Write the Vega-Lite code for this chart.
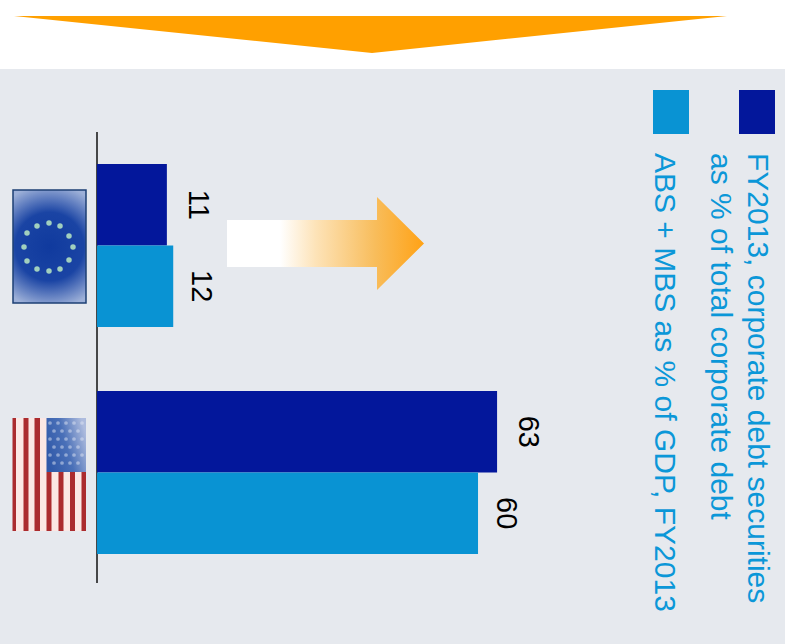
{
  "$schema": "https://vega.github.io/schema/vega-lite/v6.json",
  "width": 790,
  "height": 644,
  "padding": 0,
  "autosize": {"type": "fit", "contains": "padding"},
  "background": "#ffffff",
  "config": {"view": {"stroke": null}},
  "datasets": {
    "shares": [
      {"region": "EU", "series": "Corporate debt securities", "share": 11},
      {"region": "EU", "series": "ABS + MBS", "share": 12},
      {"region": "US", "series": "Corporate debt securities", "share": 63},
      {"region": "US", "series": "ABS + MBS", "share": 60}
    ],
    "panel": [{"u": 0, "u2": 785, "v": 69, "v2": 644}],
    "banner": [
      {"u": 14, "v": 16, "v2": 16},
      {"u": 372, "v": 53, "v2": 16},
      {"u": 727, "v": 16, "v2": 16}
    ],
    "arrow": [
      {"u": 227, "v": 220, "v2": 267},
      {"u": 377, "v": 220, "v2": 267},
      {"u": 377, "v": 197, "v2": 290},
      {"u": 424, "v": 243.5, "v2": 243.5}
    ],
    "baseline": [{"u": 97, "v": 132, "v2": 583}],
    "swatches": [
      {"series": "ABS + MBS", "u": 653, "u2": 689, "v": 90, "v2": 134},
      {"series": "Corporate debt securities", "u": 739, "u2": 775, "v": 90, "v2": 134}
    ],
    "legendLines": [
      {"u": 757, "v": 153, "line": "FY2013, corporate debt securities"},
      {"u": 720, "v": 153, "line": "as % of total corporate debt"},
      {"u": 664, "v": 153, "line": "ABS + MBS as % of GDP, FY2013"}
    ],
    "euFlag": [{"u": 13, "u2": 86, "v": 190, "v2": 303}],
    "euStars": [
      {"u": 49, "v": 223}, {"u": 60, "v": 226}, {"u": 69, "v": 236}, {"u": 73, "v": 247},
      {"u": 69, "v": 260}, {"u": 60, "v": 269}, {"u": 49, "v": 271}, {"u": 37, "v": 269},
      {"u": 27, "v": 261}, {"u": 24, "v": 247}, {"u": 27, "v": 233}, {"u": 37, "v": 226}
    ],
    "usField": [{"u": 13, "u2": 86, "v": 418, "v2": 531}],
    "usStripes": [
      {"u": 12.5, "u2": 16, "v": 418, "v2": 531},
      {"u": 23.5, "u2": 28.5, "v": 418, "v2": 531},
      {"u": 34.5, "u2": 40, "v": 418, "v2": 531},
      {"u": 46.5, "u2": 51.5, "v": 472, "v2": 531},
      {"u": 58.5, "u2": 63.5, "v": 472, "v2": 531},
      {"u": 70, "u2": 75, "v": 472, "v2": 531},
      {"u": 81.5, "u2": 86, "v": 472, "v2": 531}
    ],
    "usCanton": [{"u": 46.5, "u2": 86, "v": 418, "v2": 472}],
    "usStars": [
      {"u": 50, "v": 423}, {"u": 58, "v": 423}, {"u": 66, "v": 423}, {"u": 74, "v": 423}, {"u": 82, "v": 423},
      {"u": 54, "v": 431}, {"u": 62, "v": 431}, {"u": 70, "v": 431}, {"u": 78, "v": 431},
      {"u": 50, "v": 439}, {"u": 58, "v": 439}, {"u": 66, "v": 439}, {"u": 74, "v": 439}, {"u": 82, "v": 439},
      {"u": 54, "v": 447}, {"u": 62, "v": 447}, {"u": 70, "v": 447}, {"u": 78, "v": 447},
      {"u": 50, "v": 455}, {"u": 58, "v": 455}, {"u": 66, "v": 455}, {"u": 74, "v": 455}, {"u": 82, "v": 455},
      {"u": 54, "v": 463}, {"u": 62, "v": 463}, {"u": 70, "v": 463}, {"u": 78, "v": 463}
    ]
  },
  "layer": [
    {
      "encoding": {
        "x": {"field": "u", "type": "quantitative", "axis": null, "scale": {"domain": [0, 790], "range": [0, 790], "nice": false, "zero": false}},
        "y": {"field": "v", "type": "quantitative", "axis": null, "scale": {"domain": [0, 644], "range": [0, 644], "nice": false, "zero": false}}
      },
      "layer": [
        {
          "data": {"name": "panel"},
          "mark": {"type": "rect", "color": "#e6e9ee"},
          "encoding": {"x2": {"field": "u2"}, "y2": {"field": "v2"}}
        },
        {
          "data": {"name": "banner"},
          "mark": {"type": "area", "color": "#ffa000", "opacity": 1},
          "encoding": {"y2": {"field": "v2"}}
        },
        {
          "data": {"name": "arrow"},
          "mark": {
            "type": "area",
            "opacity": 1,
            "color": {
              "gradient": "linear", "x1": 0, "y1": 0, "x2": 1, "y2": 0,
              "stops": [
                {"offset": 0, "color": "#ffffff"},
                {"offset": 0.27, "color": "#ffffff"},
                {"offset": 0.45, "color": "#fde3b8"},
                {"offset": 0.75, "color": "#f8bd5c"},
                {"offset": 1, "color": "#ffa215"}
              ]
            }
          },
          "encoding": {"y2": {"field": "v2"}}
        },
        {
          "data": {"name": "baseline"},
          "mark": {"type": "rule", "color": "#111111", "strokeWidth": 1.5},
          "encoding": {"y2": {"field": "v2"}}
        },
        {
          "data": {"name": "swatches"},
          "mark": {"type": "rect"},
          "encoding": {
            "x2": {"field": "u2"},
            "y2": {"field": "v2"},
            "color": {"field": "series", "type": "nominal", "legend": null, "scale": {"domain": ["Corporate debt securities", "ABS + MBS"], "range": ["#03179b", "#0993d3"]}}
          }
        },
        {
          "data": {"name": "legendLines"},
          "mark": {"type": "text", "angle": 90, "align": "left", "baseline": "middle", "font": "Liberation Sans", "fontSize": 30, "color": "#0b97d8"},
          "encoding": {"text": {"field": "line"}}
        },
        {
          "data": {"name": "euFlag"},
          "mark": {
            "type": "rect",
            "stroke": "#1c3f74",
            "strokeWidth": 1.5,
            "color": {
              "gradient": "radial", "x1": 0.5, "y1": 0.5, "r1": 0, "x2": 0.5, "y2": 0.5, "r2": 0.55,
              "stops": [
                {"offset": 0, "color": "#103a9e"},
                {"offset": 0.55, "color": "#1a44a4"},
                {"offset": 1, "color": "#9db0d8"}
              ]
            }
          },
          "encoding": {"x2": {"field": "u2"}, "y2": {"field": "v2"}}
        },
        {
          "data": {"name": "euStars"},
          "mark": {"type": "point", "filled": true, "size": 30, "color": "#a9d8c0", "opacity": 0.95},
          "encoding": {}
        },
        {
          "data": {"name": "usField"},
          "mark": {"type": "rect", "color": "#fbe7e4"},
          "encoding": {"x2": {"field": "u2"}, "y2": {"field": "v2"}}
        },
        {
          "data": {"name": "usStripes"},
          "mark": {"type": "rect", "color": "#ab2b2e"},
          "encoding": {"x2": {"field": "u2"}, "y2": {"field": "v2"}}
        },
        {
          "data": {"name": "usCanton"},
          "mark": {
            "type": "rect",
            "color": {
              "gradient": "linear", "x1": 0, "y1": 0.7, "x2": 1, "y2": 0.3,
              "stops": [
                {"offset": 0, "color": "#2f58a8"},
                {"offset": 0.5, "color": "#4a70b8"},
                {"offset": 1, "color": "#aebcde"}
              ]
            }
          },
          "encoding": {"x2": {"field": "u2"}, "y2": {"field": "v2"}}
        },
        {
          "data": {"name": "usStars"},
          "mark": {"type": "point", "filled": true, "size": 14, "color": "#dfe6f4", "opacity": 0.5},
          "encoding": {}
        }
      ]
    },
    {
      "data": {"name": "shares"},
      "encoding": {
        "x": {"field": "share", "type": "quantitative", "axis": null, "scale": {"domain": [-15.28, 109.13], "nice": false, "zero": false}},
        "y": {"field": "region", "type": "nominal", "axis": null, "scale": {"domain": ["EU", "US"], "range": [132, 586], "paddingInner": 0.282, "paddingOuter": 0.141}},
        "yOffset": {"field": "series", "type": "nominal", "scale": {"domain": ["Corporate debt securities", "ABS + MBS"]}}
      },
      "layer": [
        {
          "mark": {"type": "bar"},
          "encoding": {
            "x": {"field": "share", "type": "quantitative", "axis": null, "scale": {"domain": [-15.28, 109.13], "nice": false, "zero": false}},
            "x2": {"datum": 0},
            "color": {"field": "series", "type": "nominal", "legend": null, "scale": {"domain": ["Corporate debt securities", "ABS + MBS"], "range": ["#03179b", "#0993d3"]}}
          }
        },
        {
          "transform": [{"filter": "datum.series === 'Corporate debt securities'"}],
          "mark": {"type": "text", "angle": 90, "align": "center", "baseline": "middle", "dy": -31, "font": "Liberation Sans", "fontSize": 29, "color": "#000000"},
          "encoding": {"text": {"field": "share", "type": "quantitative"}}
        },
        {
          "transform": [{"filter": "datum.series === 'ABS + MBS'"}],
          "mark": {"type": "text", "angle": 90, "align": "center", "baseline": "middle", "dy": -28, "font": "Liberation Sans", "fontSize": 29, "color": "#000000"},
          "encoding": {"text": {"field": "share", "type": "quantitative"}}
        }
      ]
    }
  ],
  "resolve": {"scale": {"x": "independent", "y": "independent", "yOffset": "independent"}}
}
